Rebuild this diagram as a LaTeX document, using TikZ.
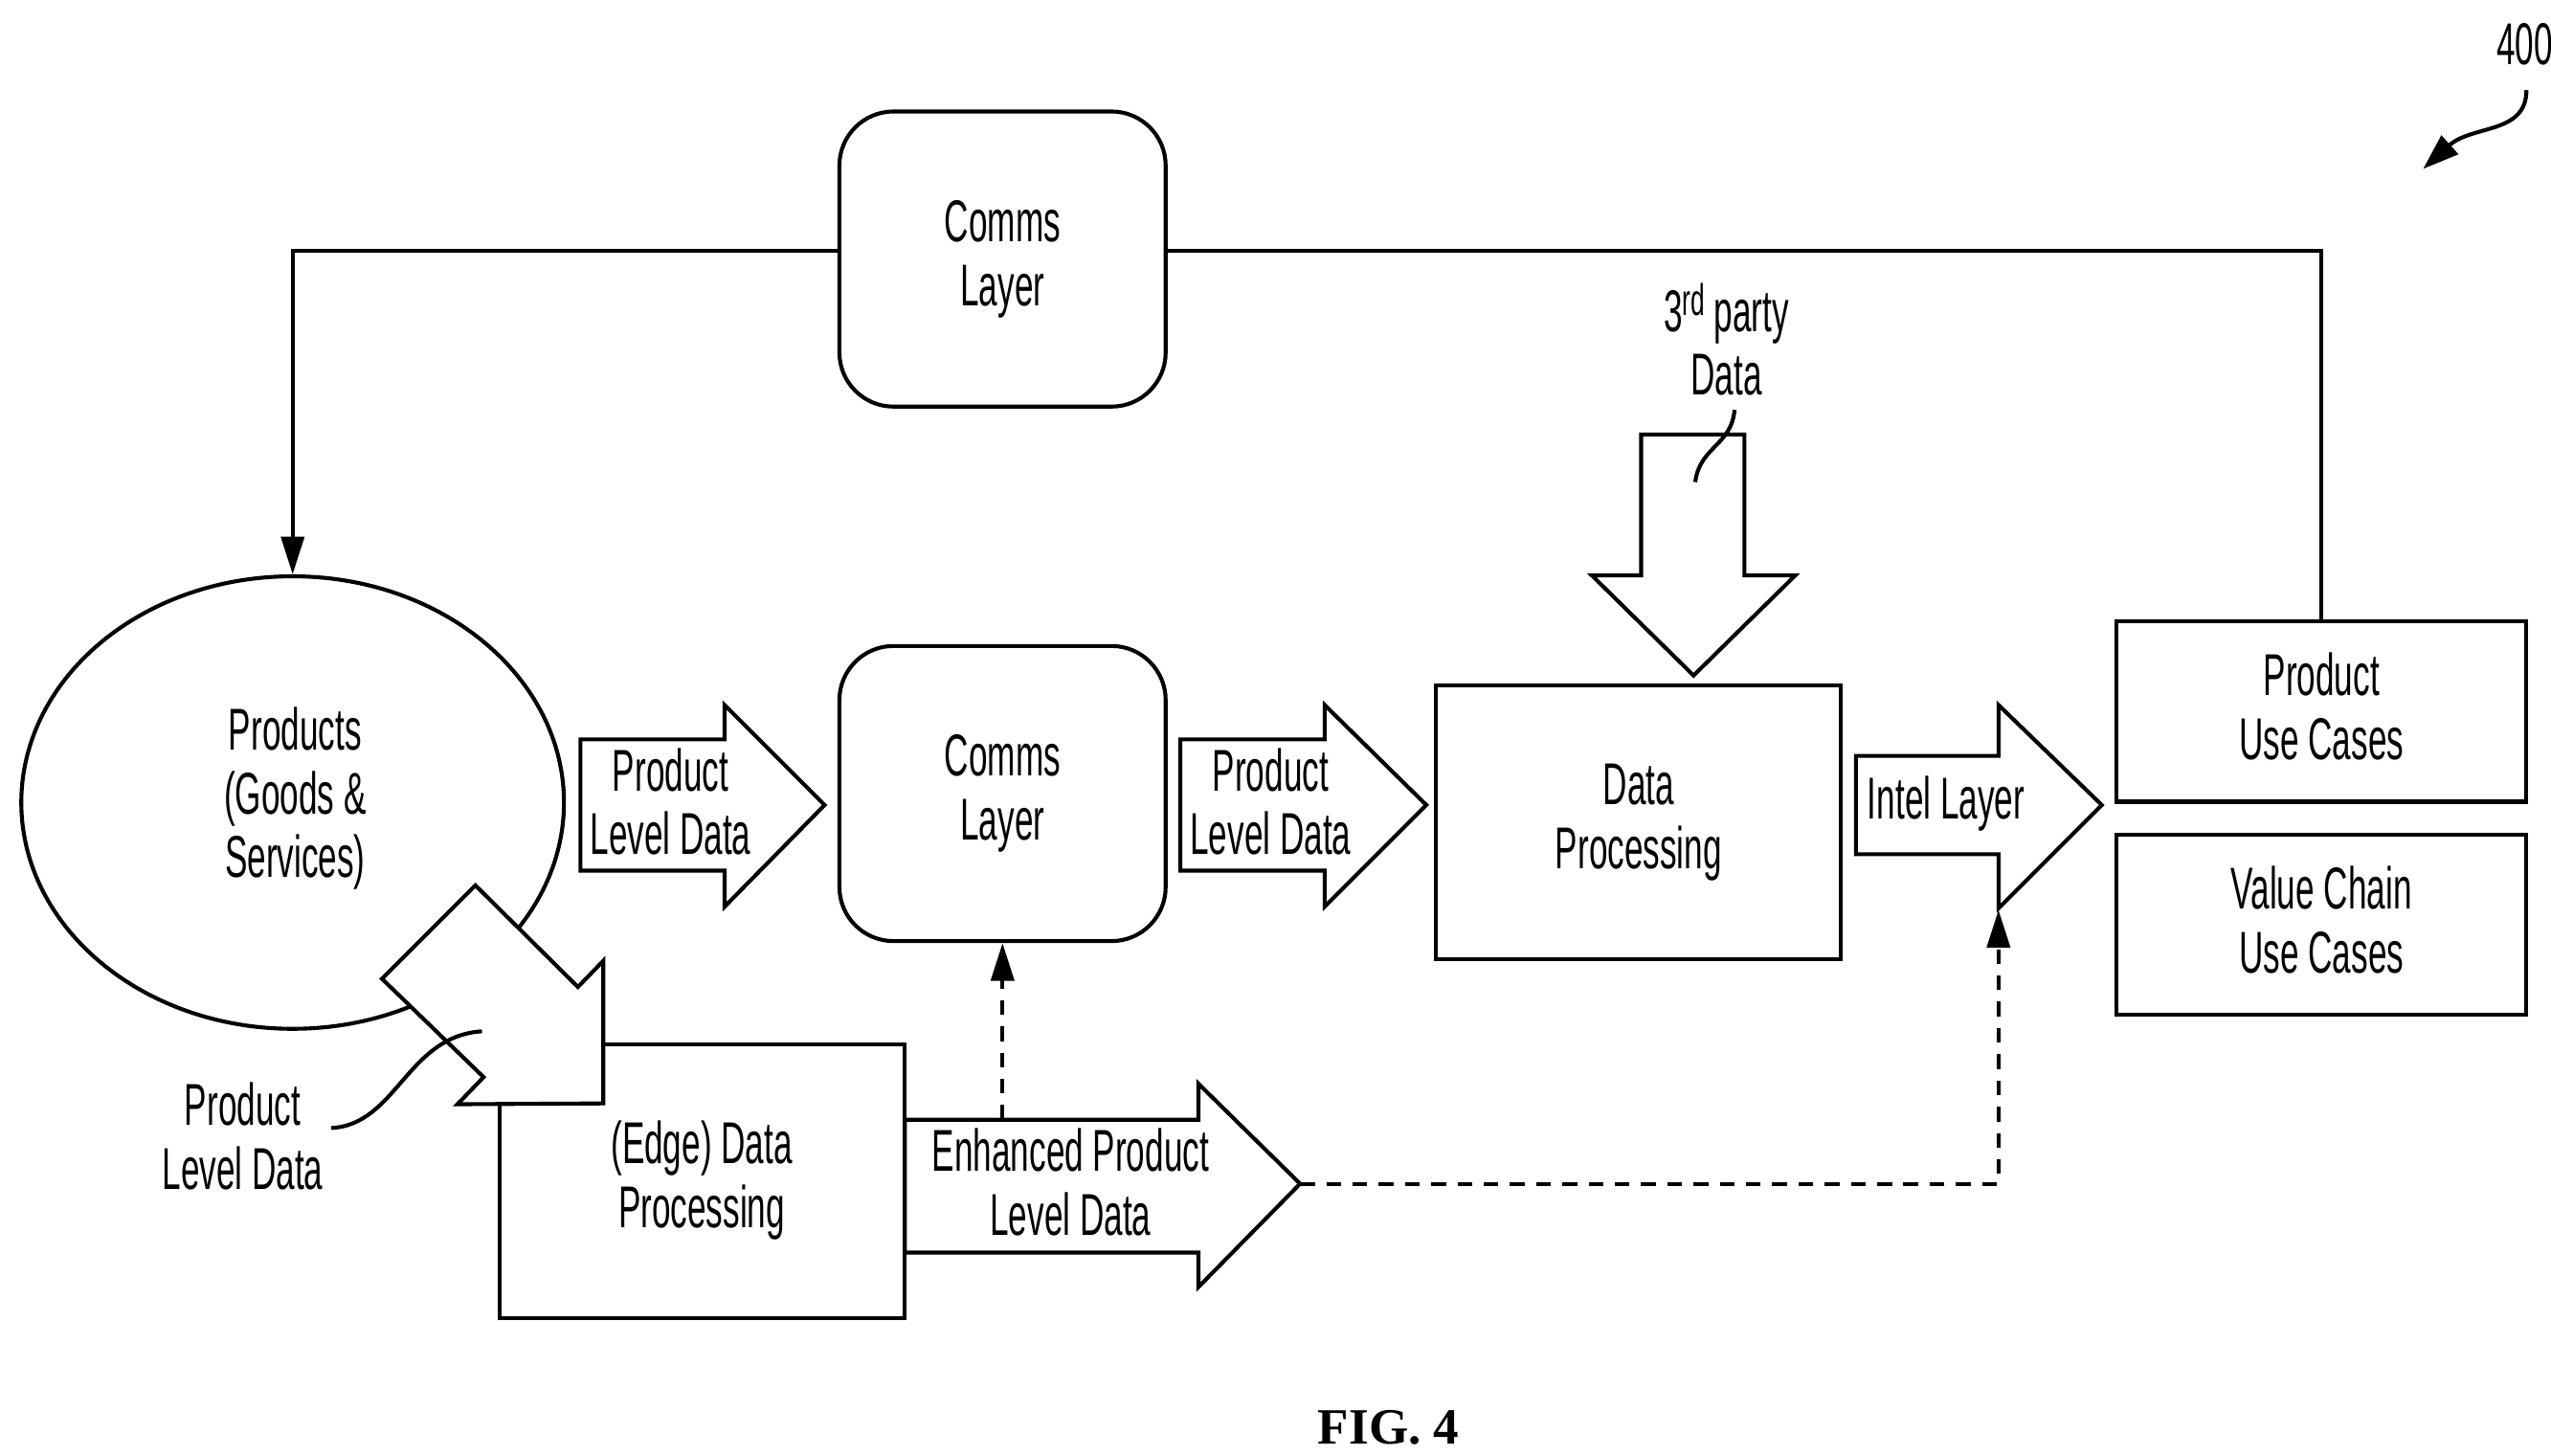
\documentclass[tikz,border=0pt]{standalone}
\usepackage{fontspec}
\setmainfont[FakeStretch=0.57]{Liberation Sans}
\newfontfamily\figfont[Ligatures=TeX]{Liberation Serif}
\usetikzlibrary{arrows.meta,shapes.geometric}
\tikzset{
  x=1pt,y=-1pt,
  lbl/.style={font=\fontsize{36}{39}\selectfont,align=center,inner sep=0pt,text=black},
  ln/.style={draw=black,line width=2.4pt},
  squarebox/.style={ln,rectangle,inner sep=0pt,lbl,fill=white},
  roundbox/.style={ln,rectangle,rounded corners=33pt,inner sep=0pt,lbl,minimum width=199pt,minimum height=180pt,fill=white},
  blockarrow/.style={ln,fill=white,miter limit=10},
  tip/.style={-{Triangle[length=23pt,width=14pt]}},
  dash line/.style={ln,dash pattern=on 9pt off 7pt,tip},
}
\begin{document}
\begin{tikzpicture}
\useasboundingbox (0,0) rectangle (1556,888);
\fill[white] (0,0) rectangle (1556,888);

\node[roundbox] (commsTop) at (611.5,158) {Comms\\Layer};
\node[roundbox] (commsMid) at (611.5,484) {Comms\\Layer};
\node[ln,ellipse,minimum width=331pt,minimum height=276pt,inner sep=0pt,lbl] (products) at (178.5,489.5) {};
\node[lbl] (productsText) at (180,487) {Products\\(Goods \&\\Services)};

\node[squarebox,minimum width=247pt,minimum height=167pt] (edge) at (428.5,720.5) {};
\node[lbl] (edgeText) at (428,720) {(Edge) Data\\Processing};
\node[squarebox,minimum width=247pt,minimum height=167pt] (dataproc) at (999.5,501.5) {Data\\Processing};
\node[squarebox,minimum width=250pt,minimum height=110pt] (productUse) at (1416,434) {};
\node[lbl] (productUseText) at (1416,431) {Product\\Use Cases};
\node[squarebox,minimum width=250pt,minimum height=110pt] (valueUse) at (1416,564) {};
\node[lbl] (valueUseText) at (1416,561) {Value Chain\\Use Cases};

% feedback loop
\draw[ln] (commsTop.east |- 0,153) -- (1416,153) -- (productUse.north);
\draw[ln,tip] (commsTop.west |- 0,153) -- (178.5,153) -- (products.north);

% block arrows
\draw[blockarrow] (354,451) -- (442,451) -- (442,430) -- (503,491) -- (442,553) -- (442,531) -- (354,531) -- cycle;
\node[lbl] (pld1) at (409,489) {Product\\Level Data};
\draw[blockarrow] (720,451) -- (808,451) -- (808,430) -- (870,491) -- (808,553) -- (808,531) -- (720,531) -- cycle;
\node[lbl] (pld2) at (775,489) {Product\\Level Data};
\draw[blockarrow] (1132,461) -- (1219,461) -- (1219,430) -- (1282,491) -- (1219,554) -- (1219,521) -- (1132,521) -- cycle;
\node[lbl] (intel) at (1187,490) {Intel Layer};
\draw[blockarrow] (1001,265) -- (1064,265) -- (1064,351) -- (1095,351) -- (1033,412) -- (971,351) -- (1001,351) -- cycle;
\node[lbl] (third) at (1053,207) {3\raisebox{10pt}{\fontsize{27}{27}\selectfont rd} party\\Data};
\coordinate (thirdA) at (1058,250);
\coordinate (thirdB) at (1034,294);
\draw[ln] (thirdA) .. controls (1056,272) and (1037,272) .. (thirdB);

\coordinate (enhTip) at (793,722);
\draw[blockarrow] (552,683) -- (731,683) -- (731,661) -- (enhTip) -- (731,785) -- (731,764) -- (552,764) -- cycle;
\node[lbl] (enh) at (653,721) {Enhanced Product\\Level Data};

% diagonal arrow
\draw[blockarrow] (290,540) -- (352.5,602) -- (368,586) -- (368,673) -- (279,673.5) -- (295,657) -- (233,597) -- cycle;
\node[lbl] (pld3) at (148,693) {Product\\Level Data};
\coordinate (pld3A) at (202,688);
\coordinate (pld3B) at (294,629);
\draw[ln] (pld3A) .. controls (242,686) and (248,632) .. (pld3B);

% dashed connectors
\coordinate (enhTop) at (611.5,683);
\coordinate (intelBottom) at (1219,555);
\draw[dash line] (enhTop) -- (commsMid.south);
\draw[dash line] (enhTip) -- (1219,722) -- (intelBottom);

% reference numeral
\node[lbl] (num) at (1540,27) {400};
\coordinate (numA) at (1541,55);
\coordinate (numB) at (1478,103);
\draw[ln,-{Triangle[length=22pt,width=15pt]}] (numA) .. controls (1541,82) and (1508,76) .. (numB);

\node[inner sep=0pt,font=\figfont\bfseries\fontsize{31}{33}\selectfont] (fig) at (847,871) {FIG. 4};
\end{tikzpicture}
\end{document}
